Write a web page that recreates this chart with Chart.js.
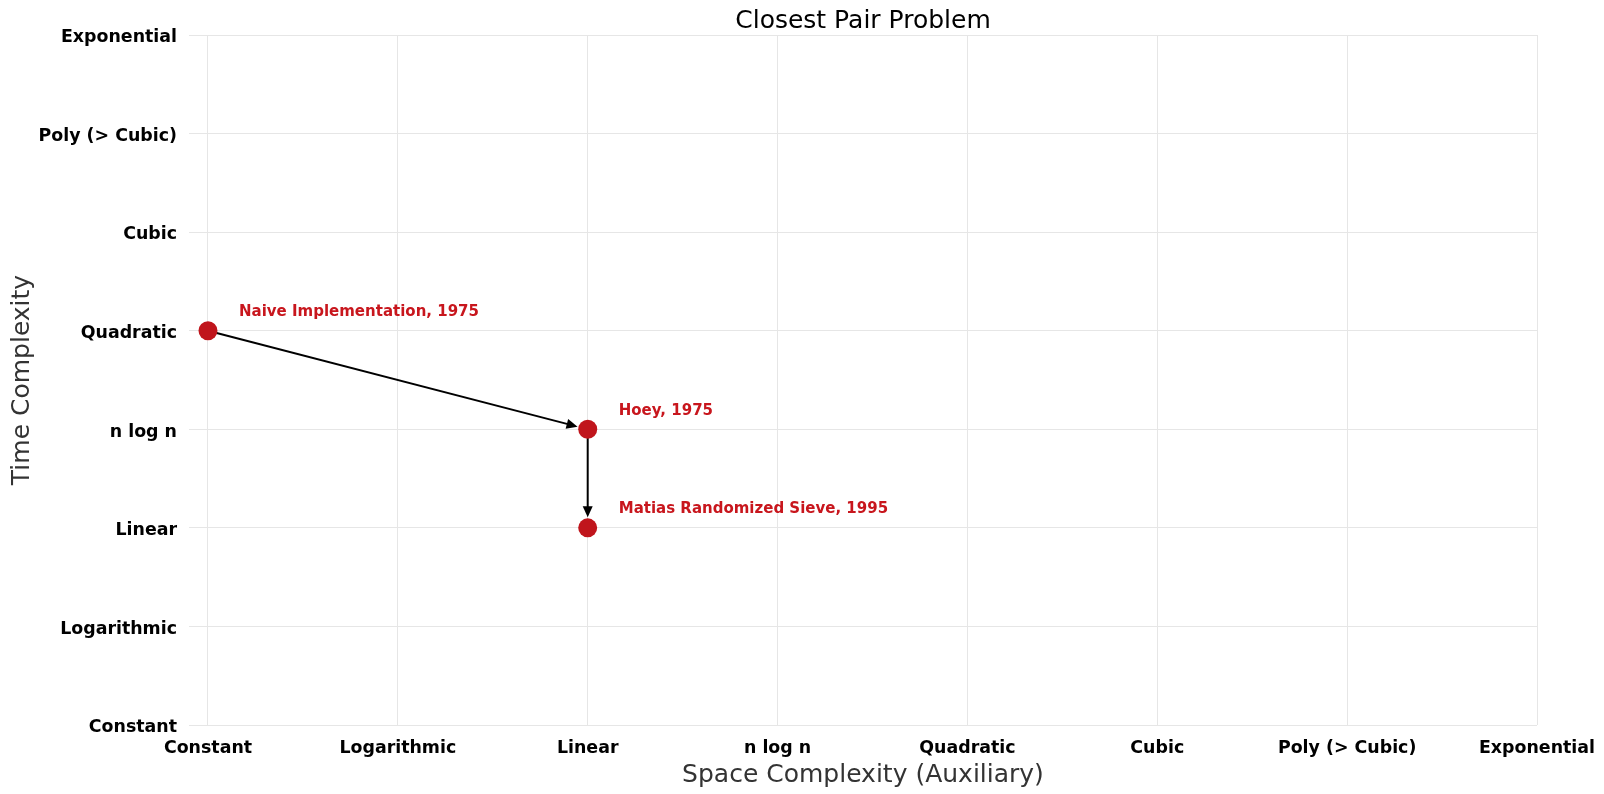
<!DOCTYPE html>
<html>
<head>
<meta charset="utf-8">
<script src="https://cdn.jsdelivr.net/npm/chart.js@4/dist/chart.umd.min.js"></script>
<style>
  html, body { margin: 0; padding: 0; background: #fff; }
  canvas { display: block; }
</style>
</head>
<body>
<canvas id="myChart" width="1604" height="794"></canvas>
<script>
// complexity classes, used for both axes
const spaceLabels = ['Constant', 'Logarithmic', 'Linear', 'n log n', 'Quadratic', 'Cubic', 'Poly (> Cubic)', 'Exponential'];
const timeLabels = ['Constant', 'Logarithmic', 'Linear', 'n log n', 'Quadratic', 'Cubic', 'Poly (> Cubic)', 'Exponential'];

// algorithms (index into the label lists)
const algoNames = ['Naive Implementation, 1975', 'Hoey, 1975', 'Matias Randomized Sieve, 1995'];
const algoSpace = [0, 2, 2];
const algoTime = [4, 3, 2];

const chartTitle = 'Closest Pair Problem';

const FONT = "'DejaVu Sans', sans-serif";
const RED = '#c0151c';

const points = algoNames.map((n, i) => ({ x: algoSpace[i], y: algoTime[i], name: n }));

// arrows between successive algorithms, labels, and the title over the plot area
const annotPlugin = {
    id: 'annot',
    beforeDatasetsDraw(chart) {
        const ctx = chart.ctx;
        const xs = chart.scales.x, ys = chart.scales.y;
        ctx.save();
        ctx.strokeStyle = '#000';
        ctx.fillStyle = '#000';
        ctx.lineWidth = 2;
        for (let i = 1; i < points.length; i++) {
            const x0 = xs.getPixelForValue(points[i - 1].x), y0 = ys.getPixelForValue(points[i - 1].y);
            const x1 = xs.getPixelForValue(points[i].x), y1 = ys.getPixelForValue(points[i].y);
            const ang = Math.atan2(y1 - y0, x1 - x0);
            const len = Math.hypot(x1 - x0, y1 - y0);
            const tip = len - 10.5;
            const head = 11, hw = 5;
            ctx.translate(x0, y0);
            ctx.rotate(ang);
            ctx.beginPath();
            ctx.moveTo(0, 0);
            ctx.lineTo(tip - head + 1, 0);
            ctx.stroke();
            ctx.beginPath();
            ctx.moveTo(tip, 0);
            ctx.lineTo(tip - head, -hw);
            ctx.lineTo(tip - head, hw);
            ctx.closePath();
            ctx.fill();
            ctx.setTransform(1, 0, 0, 1, 0, 0);
        }
        ctx.restore();
    },
    afterDatasetsDraw(chart) {
        const ctx = chart.ctx;
        const xs = chart.scales.x, ys = chart.scales.y;
        ctx.save();
        ctx.font = 'bold 15px ' + FONT;
        ctx.fillStyle = '#c8161d';
        ctx.textAlign = 'left';
        ctx.textBaseline = 'alphabetic';
        points.forEach(p => {
            ctx.fillText(p.name, xs.getPixelForValue(p.x) + 31, ys.getPixelForValue(p.y) - 14.5);
        });
        const a = chart.chartArea;
        ctx.font = '25px ' + FONT;
        ctx.fillStyle = '#000';
        ctx.textAlign = 'center';
        ctx.textBaseline = 'middle';
        ctx.fillText(chartTitle, (a.left + a.right) / 2, 21);
        ctx.restore();
    }
};

const ctx = document.getElementById('myChart').getContext('2d');
const myChart = new Chart(ctx, {
    type: 'scatter',
    data: {
        datasets: [{
            data: points,
            pointRadius: 9.5,
            pointHoverRadius: 9.5,
            pointBackgroundColor: RED,
            pointBorderColor: RED,
            pointBorderWidth: 0
        }]
    },
    options: {
        responsive: false,
        animation: false,
        devicePixelRatio: 1,
        events: [],
        layout: { padding: { left: 0, right: 67, top: 35, bottom: 0 } },
        plugins: {
            legend: { display: false },
            tooltip: { enabled: false },
            title: { display: false }
        },
        scales: {
            x: {
                type: 'linear',
                min: -0.1,
                max: 7,
                afterBuildTicks: s => { s.ticks = spaceLabels.map((_, i) => ({ value: i })); },
                afterFit: s => { s.height = 69; s.paddingRight = 0; s.paddingLeft = 0; },
                ticks: {
                    callback: v => spaceLabels[v],
                    autoSkip: false,
                    maxRotation: 0,
                    padding: 13,
                    color: '#000',
                    font: { family: FONT, size: 17.4, weight: 'bold' }
                },
                grid: { color: '#e6e6e6', drawTicks: false },
                border: { display: false },
                title: {
                    display: true,
                    text: 'Space Complexity (Auxiliary)',
                    color: '#333',
                    font: { family: FONT, size: 25, lineHeight: 1.2 },
                    padding: { top: 0, bottom: 4 }
                }
            },
            y: {
                type: 'linear',
                min: 0,
                max: 7,
                afterBuildTicks: s => { s.ticks = timeLabels.map((_, i) => ({ value: i })); },
                afterFit: s => { s.width = 189; },
                ticks: {
                    // empty first line nudges the label a little below the grid line
                    callback: v => ['', timeLabels[v]],
                    autoSkip: false,
                    padding: 12,
                    color: '#000',
                    font: { family: FONT, size: 17.4, weight: 'bold', lineHeight: '5.4px' }
                },
                grid: { color: '#e6e6e6', drawTicks: false },
                border: { display: false },
                title: {
                    display: true,
                    text: 'Time Complexity',
                    color: '#333',
                    font: { family: FONT, size: 25, lineHeight: 1.2 },
                    padding: { top: 7, bottom: 0 }
                }
            }
        }
    },
    plugins: [annotPlugin]
});
</script>
</body>
</html>
